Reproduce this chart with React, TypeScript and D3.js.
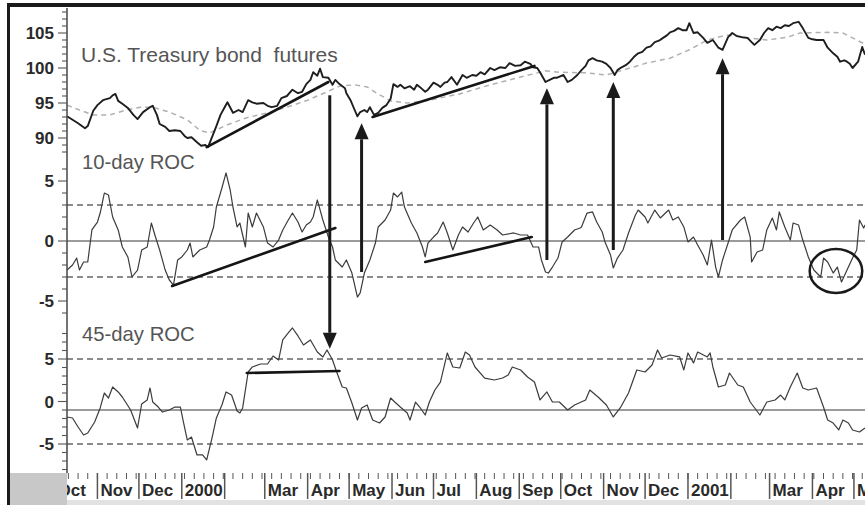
import React from 'react';
import * as d3 from 'd3';

// ---- data (x = day offset from series start 1999-10-10) ----
const seriesStart = new Date(1999, 9, 10);
const seriesEnd = new Date(2001, 4, 9);

const priceSeries: [number, number][] = [
  [0,93.1],[4,92.6],[8,92.1],[13,91.4],[15,91.7],[19,93.9],[22,94.7],[26,95.4],[31,95.7],[33,96.1],
  [35,96.3],[37,95.3],[40,94.9],[44,94.3],[48,93.3],[51,92.7],[55,93.7],[60,94.4],[62,94.6],[65,93.3],
  [67,92.0],[71,91.6],[74,91.0],[78,91.1],[82,91.0],[85,90.3],[87,90.0],[90,90.1],[94,89.4],[97,88.9],
  [100,89.0],[102,88.7],[106,90.7],[108,91.7],[111,93.3],[114,94.4],[116,95.1],[120,93.6],[124,94.0],[127,93.7],
  [131,95.4],[134,95.1],[137,94.9],[142,95.0],[145,94.6],[148,94.4],[152,94.6],[155,95.7],[159,96.0],[163,96.9],
  [167,96.4],[170,96.6],[173,97.7],[176,98.3],[178,99.4],[181,98.9],[183,99.9],[185,98.7],[189,98.6],[192,97.6],
  [194,98.3],[197,97.7],[201,97.1],[202,96.4],[205,95.4],[208,94.0],[210,93.1],[212,93.7],[215,94.0],[217,93.7],
  [219,94.4],[222,93.3],[225,93.6],[228,94.3],[231,94.7],[234,95.6],[236,97.7],[239,97.3],[241,97.6],[244,97.1],
  [248,97.4],[251,96.9],[253,97.6],[255,97.3],[259,96.6],[261,96.9],[265,97.9],[268,97.6],[270,97.3],[273,97.9],
  [275,98.0],[278,98.7],[282,97.6],[286,99.0],[289,98.6],[293,99.0],[296,98.9],[299,99.4],[302,99.1],[306,100.0],
  [309,99.7],[313,100.1],[317,100.0],[320,100.7],[324,100.3],[328,100.4],[331,100.9],[335,100.6],[337,100.1],[340,100.0],
  [342,99.4],[346,98.0],[349,98.3],[352,98.6],[354,98.6],[359,99.0],[362,98.0],[365,98.3],[369,99.0],[372,99.7],
  [375,100.3],[377,101.1],[380,101.4],[383,101.1],[387,100.9],[390,100.6],[393,100.0],[396,99.0],[398,99.7],[401,100.1],
  [404,100.4],[407,100.9],[410,101.6],[413,102.1],[416,102.3],[419,102.9],[422,103.1],[425,103.7],[428,103.9],[431,104.3],
  [434,104.7],[436,105.1],[439,105.3],[442,105.7],[445,105.4],[448,105.4],[450,106.4],[453,105.0],[456,105.1],[460,104.3],
  [463,103.6],[467,104.0],[471,102.9],[474,102.6],[478,104.4],[481,105.0],[484,104.6],[488,104.4],[492,104.3],[495,103.7],
  [497,103.3],[501,104.0],[504,105.0],[507,105.7],[510,105.4],[513,105.9],[516,105.7],[519,106.1],[522,106.0],[525,106.4],
  [529,106.6],[532,105.7],[536,104.3],[539,104.1],[542,104.0],[547,104.0],[550,102.9],[554,102.1],[557,101.6],[559,100.9],
  [562,101.1],[564,100.9],[566,100.6],[568,100.0],[572,100.9],[575,103.0],[577,101.9]
];

const movingAverage: [number, number][] = [
  [0,94.7],[9,94.0],[19,93.3],[31,93.3],[43,94.0],[53,94.4],[62,94.4],[74,93.7],[87,92.6],[96,91.1],
  [103,90.7],[116,91.9],[130,92.9],[145,93.6],[159,94.4],[174,95.4],[188,96.6],[197,97.4],[208,97.6],[217,97.3],
  [224,96.4],[234,95.3],[246,95.0],[262,95.4],[284,96.3],[306,97.6],[328,98.7],[346,99.6],[356,99.4],[376,99.3],
  [390,99.0],[402,99.7],[419,100.7],[436,101.4],[450,102.6],[463,104.0],[477,104.7],[492,104.3],[506,104.0],[521,104.4],
  [530,105.0],[550,105.1],[561,105.0],[571,104.0],[577,103.4]
];

const roc10: [number, number][] = [
  [0,-2.42],[4,-2.0],[7,-1.42],[9,-2.42],[12,-1.75],[15,-1.75],[18,0.92],[22,1.58],[24,2.33],[27,4.0],
  [30,3.83],[33,2.0],[37,0.92],[40,-0.5],[44,-1.33],[47,-3.0],[51,-2.42],[54,-0.75],[58,-0.5],[61,1.5],
  [64,0.33],[67,-0.75],[71,-2.42],[74,-3.25],[77,-3.67],[80,-1.58],[83,-1.33],[87,-0.75],[89,-0.17],[91,-1.33],
  [96,-0.75],[101,-0.5],[103,0.08],[106,1.17],[108,2.83],[112,4.42],[115,5.67],[118,4.25],[120,2.83],[123,1.17],
  [125,1.5],[129,-0.5],[131,2.33],[134,1.17],[137,2.33],[142,1.17],[145,-0.17],[149,-0.5],[153,0.08],[156,0.92],
  [160,1.75],[163,2.33],[167,1.58],[170,0.75],[173,1.33],[176,1.58],[178,2.0],[181,3.42],[185,1.75],[189,0.33],
  [192,-0.5],[194,-1.58],[199,-2.17],[202,-1.58],[206,-2.67],[210,-4.67],[212,-4.33],[215,-2.67],[219,-1.58],[223,-0.17],
  [225,1.17],[230,1.75],[234,2.58],[236,4.0],[239,3.67],[242,4.08],[244,2.83],[249,1.5],[253,0.67],[257,-0.5],
  [259,-1.33],[261,-0.17],[265,0.33],[268,0.67],[272,1.58],[275,0.67],[279,-0.75],[283,0.5],[286,1.17],[290,0.75],
  [294,1.5],[297,2.0],[301,0.92],[306,1.33],[311,0.92],[315,0.5],[323,0.67],[328,0.5],[333,0.5],[337,-0.5],
  [341,-0.5],[343,-1.58],[346,-2.58],[348,-2.67],[351,-2.17],[355,-1.42],[358,-0.08],[362,0.33],[367,0.92],[371,1.08],
  [372,1.17],[376,2.33],[380,2.42],[383,1.58],[387,0.75],[389,-0.08],[393,-1.17],[395,-2.25],[398,-1.42],[402,-0.75],
  [406,0.67],[411,2.17],[413,2.58],[418,2.0],[420,1.5],[425,2.58],[429,1.92],[435,2.58],[438,1.75],[442,2.0],
  [446,1.17],[449,-0.08],[453,0.33],[456,-0.33],[460,-1.17],[463,-2.0],[466,0.08],[469,-2.17],[471,-3.0],[474,-1.58],
  [478,-0.17],[481,0.92],[487,1.75],[490,2.0],[494,0.33],[495,-1.75],[499,-0.92],[503,-0.75],[506,0.92],[510,1.92],
  [513,0.92],[515,2.42],[519,1.17],[523,0.08],[525,1.5],[529,1.33],[532,0.08],[536,-1.33],[540,-2.42],[545,-3.0],
  [547,-1.42],[550,-1.75],[554,-2.67],[557,-2.17],[560,-3.42],[564,-2.42],[568,-1.42],[571,-0.75],[573,1.75],[576,1.08],
  [577,1.33]
];

const roc45: [number, number][] = [
  [0,-1.82],[4,-1.94],[8,-3.0],[12,-3.94],[15,-3.71],[20,-2.41],[24,-0.76],[27,1.0],[30,0.41],[33,1.71],
  [37,1.12],[40,0.53],[46,-1.0],[51,-3.12],[54,-0.29],[58,0.18],[60,1.59],[62,-0.06],[66,-0.65],[69,-1.24],
  [74,-1.0],[78,-0.65],[82,-0.65],[84,-2.29],[87,-4.53],[90,-4.18],[94,-6.29],[98,-6.29],[101,-6.88],[105,-4.18],
  [108,-1.94],[112,-0.41],[115,1.12],[119,0.76],[123,-1.12],[125,-1.35],[127,-0.76],[131,3.47],[134,4.06],[140,4.41],
  [145,4.41],[149,5.35],[153,4.88],[156,7.24],[160,8.06],[163,8.65],[167,7.71],[171,6.65],[176,7.24],[181,5.82],
  [185,5.24],[188,6.06],[192,4.88],[195,3.47],[199,1.71],[202,1.59],[206,-0.18],[210,-2.18],[213,-0.76],[217,-0.41],
  [221,-2.18],[226,-2.53],[230,-1.82],[234,0.41],[237,-0.06],[241,-0.65],[246,-1.35],[248,-2.18],[252,-0.06],[255,-0.65],
  [259,-1.59],[262,-0.06],[266,1.35],[270,2.29],[275,5.71],[279,4.06],[284,3.94],[288,5.82],[291,5.47],[295,4.06],
  [302,2.76],[309,2.53],[315,2.76],[319,3.12],[322,4.06],[328,3.71],[333,2.88],[338,2.29],[342,0.18],[347,1.12],
  [351,-0.06],[356,-0.06],[362,-1.0],[367,-0.41],[375,0.18],[378,1.35],[384,0.53],[390,-0.41],[395,-1.82],[400,-0.76],
  [406,1.0],[412,3.71],[418,3.47],[423,4.29],[427,6.06],[430,5.12],[436,5.47],[443,5.24],[446,3.71],[449,5.71],
  [453,4.53],[456,5.82],[463,5.24],[465,5.71],[467,4.06],[471,1.71],[476,1.94],[479,3.35],[485,1.94],[489,1.71],
  [494,-0.06],[501,-1.59],[506,-0.06],[512,0.18],[516,0.76],[519,0.18],[523,1.71],[528,3.35],[532,1.59],[536,1.35],
  [542,1.59],[547,-0.65],[550,-2.18],[554,-2.53],[558,-3.35],[561,-2.18],[565,-2.53],[568,-3.35],[573,-3.59],[577,-3.12]
];

const monthLabels = ["Oct","Nov","Dec","2000","","Mar","Apr","May","Jun","Jul","Aug","Sep","Oct","Nov","Dec","2001","","Mar","Apr","May"];
const priceTicks = [90, 95, 100, 105];
const roc10Ticks = [-5, 0, 5];
const roc45Ticks = [-5, 0, 5];
const roc10Bands = [-3, 3];
const roc45Bands = [-5, 5];
const roc45BaseLevel = -1;

type Panel = 'price' | 'roc10' | 'roc45';
const trendLines: { panel: Panel; d0: number; v0: number; d1: number; v1: number }[] = [
  { panel: 'price', d0: 101, v0: 88.7, d1: 189, v1: 98.0 },
  { panel: 'price', d0: 221, v0: 93.0, d1: 338, v1: 100.3 },
  { panel: 'roc10', d0: 76, v0: -3.75, d1: 194, v1: 1.08 },
  { panel: 'roc10', d0: 259, v0: -1.75, d1: 336, v1: 0.33 },
  { panel: 'roc45', d0: 130, v0: 3.35, d1: 197, v1: 3.59 },
];
const arrows: { day: number; fromPanel: Panel; fromV: number; toPanel: Panel; toV: number }[] = [
  { day: 190, fromPanel: 'price', fromV: 96.1, toPanel: 'roc45', toV: 6.2 },
  { day: 213, fromPanel: 'roc10', fromV: -2.58, toPanel: 'price', toV: 92.1 },
  { day: 347, fromPanel: 'roc10', fromV: -1.58, toPanel: 'price', toV: 97.1 },
  { day: 395, fromPanel: 'roc10', fromV: -0.75, toPanel: 'price', toV: 98.0 },
  { day: 474, fromPanel: 'roc10', fromV: 0.08, toPanel: 'price', toV: 101.4 },
];
const circled = { panel: 'roc10' as Panel, d0: 537, d1: 575, v0: -4.33, v1: -0.67 };

const FONT = '"Liberation Sans", Arial, Helvetica, sans-serif';

export default function App() {
  const W = 865, H = 505;
  const x = d3.scaleTime().domain([seriesStart, seriesEnd]).range([67, 865]);
  const dx = (d: number) => x(d3.timeDay.offset(seriesStart, d))!;
  const yP = d3.scaleLinear().domain([90, 105]).range([138, 33]);
  const y10 = d3.scaleLinear().domain([-5, 5]).range([301, 181]);
  const y45 = d3.scaleLinear().domain([-5, 5]).range([444, 359]);
  const Y: Record<Panel, d3.ScaleLinear<number, number>> = { price: yP, roc10: y10, roc45: y45 };
  const mk = (ys: d3.ScaleLinear<number, number>) =>
    d3.line<[number, number]>().x(d => dx(d[0])).y(d => ys(d[1]));

  const months = d3.timeMonth.range(new Date(1999, 9, 1), new Date(2001, 5, 1));
  const weeks = d3.timeMonday.range(seriesStart, seriesEnd);
  const axisX = 67;

  const minorSets: { ys: d3.ScaleLinear<number, number>; vals: number[]; major: number[] }[] = [
    { ys: yP, vals: d3.range(88, 109), major: priceTicks },
    { ys: y10, vals: d3.range(-6, 7), major: roc10Ticks },
    { ys: y45, vals: d3.range(-8, 9), major: roc45Ticks },
  ];

  const ecx = (dx(circled.d0) + dx(circled.d1)) / 2;
  const ecy = (Y[circled.panel](circled.v0) + Y[circled.panel](circled.v1)) / 2;
  const erx = (dx(circled.d1) - dx(circled.d0)) / 2;
  const ery = Math.abs(Y[circled.panel](circled.v0) - Y[circled.panel](circled.v1)) / 2;

  return (
    <svg width={W} height={H} style={{ position: 'absolute', left: 0, top: 0, background: '#fff' }} fontFamily={FONT}>
      <rect x={0} y={0} width={W} height={H} fill="#fff" />
      {/* reference lines */}
      <line x1={axisX} x2={W} y1={y10(0)} y2={y10(0)} stroke="#7a7a7a" strokeWidth={1.5} />
      {roc10Bands.map(v => (
        <line key={'b10' + v} x1={axisX} x2={W} y1={y10(v)} y2={y10(v)} stroke="#666" strokeWidth={1.3} strokeDasharray="6,4" />
      ))}
      <line x1={axisX} x2={W} y1={y45(roc45BaseLevel)} y2={y45(roc45BaseLevel)} stroke="#7a7a7a" strokeWidth={1.5} />
      {roc45Bands.map(v => (
        <line key={'b45' + v} x1={axisX} x2={W} y1={y45(v)} y2={y45(v)} stroke="#666" strokeWidth={1.3} strokeDasharray="6,4" />
      ))}

      {/* series */}
      <path d={mk(yP)(movingAverage) || ''} fill="none" stroke="#b0b0b0" strokeWidth={1.5} strokeDasharray="5,4" />
      <path d={mk(yP)(priceSeries) || ''} fill="none" stroke="#1e1e1e" strokeWidth={1.9} strokeLinejoin="round" />
      <path d={mk(y10)(roc10) || ''} fill="none" stroke="#3c3c3c" strokeWidth={1.2} strokeLinejoin="round" />
      <path d={mk(y45)(roc45) || ''} fill="none" stroke="#3c3c3c" strokeWidth={1.2} strokeLinejoin="round" />

      {/* trend lines */}
      {trendLines.map((t, i) => (
        <line key={'t' + i} x1={dx(t.d0)} y1={Y[t.panel](t.v0)} x2={dx(t.d1)} y2={Y[t.panel](t.v1)}
          stroke="#151515" strokeWidth={2.6} strokeLinecap="round" />
      ))}

      {/* arrows */}
      {arrows.map((a, i) => {
        const ax = dx(a.day);
        const y0 = Y[a.fromPanel](a.fromV);
        const y1 = Y[a.toPanel](a.toV);
        const dir = y1 > y0 ? 1 : -1;
        const hl = 16, hw = 7;
        const base = y1 - dir * hl;
        return (
          <g key={'a' + i}>
            <line x1={ax} x2={ax} y1={y0} y2={base} stroke="#1a1a1a" strokeWidth={3} />
            <polygon points={`${ax},${y1} ${ax - hw},${base} ${ax + hw},${base}`} fill="#1a1a1a" />
          </g>
        );
      })}

      <ellipse cx={ecx} cy={ecy} rx={erx} ry={ery} fill="none" stroke="#1a1a1a" strokeWidth={2.5} />

      {/* panel titles */}
      <text x={81} y={62} fontSize={21} fill="#555" style={{ whiteSpace: 'pre' }}>{'U.S. Treasury bond  futures'}</text>
      <text x={82} y={169} fontSize={20.3} fill="#555">10-day ROC</text>
      <text x={82} y={341} fontSize={20.3} fill="#555">45-day ROC</text>

      {/* y axis */}
      <line x1={axisX} x2={axisX} y1={8} y2={473} stroke="#444" strokeWidth={1.5} />
      {minorSets.map((s, si) => (
        <g key={'m' + si}>
          {s.vals.map(v => (
            <line key={v} x1={s.major.includes(v) ? axisX - 9 : axisX - 5} x2={axisX} y1={s.ys(v)} y2={s.ys(v)}
              stroke="#555" strokeWidth={1.1} />
          ))}
          {s.major.map(v => (
            <text key={'l' + v} x={54} y={s.ys(v)} dy="0.36em" textAnchor="end" fontSize={17} fontWeight="bold" fill="#2a2a2a">
              {String(v)}
            </text>
          ))}
        </g>
      ))}

      {/* x axis */}
      {weeks.map((w, i) => (
        <line key={'w' + i} x1={x(w)} x2={x(w)} y1={473} y2={479} stroke="#555" strokeWidth={1} />
      ))}
      {months.map((m, i) => (
        <g key={'mo' + i}>
          <line x1={x(m)} x2={x(m)} y1={473} y2={499} stroke="#555" strokeWidth={1.5} />
          <text x={x(m) + 3} y={496} fontSize={17} fontWeight="bold" fill="#2a2a2a">{monthLabels[i]}</text>
        </g>
      ))}
      <rect x={67} y={500} width={W - 67} height={5} fill="#e2e2e2" />
      <rect x={10} y={473} width={57} height={32} fill="#c8c8c8" />

      {/* frame */}
      <rect x={7} y={3} width={W - 7} height={4} fill="#1a1a1a" />
      <rect x={7} y={3} width={3} height={H - 3} fill="#1a1a1a" />
    </svg>
  );
}
